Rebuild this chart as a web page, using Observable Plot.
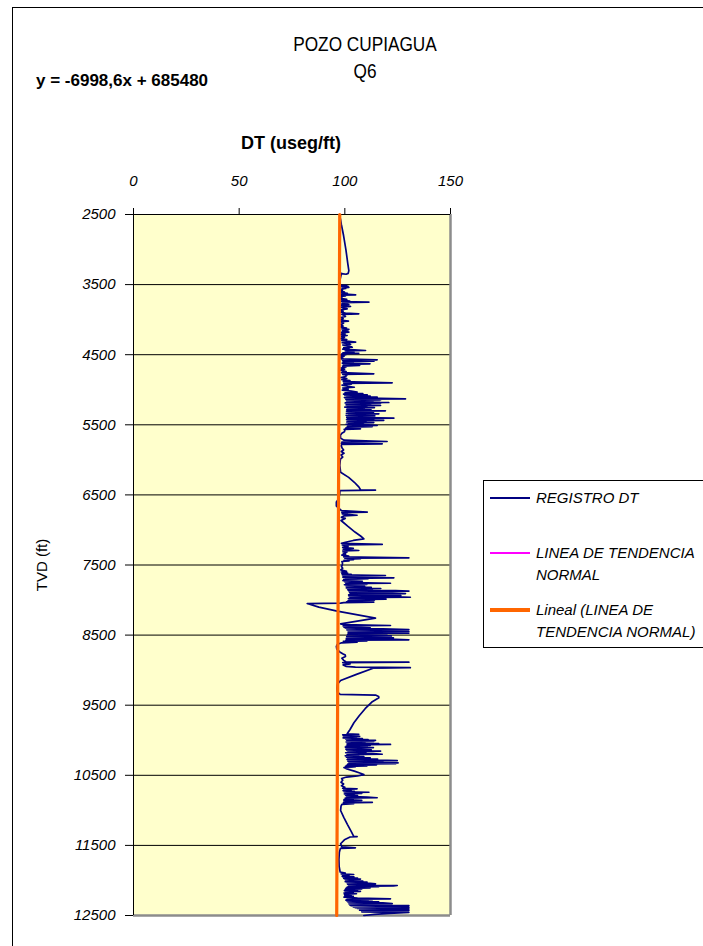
<!DOCTYPE html>
<html>
<head>
<meta charset="utf-8">
<script src="https://cdn.jsdelivr.net/npm/d3@7"></script>
<script src="https://cdn.jsdelivr.net/npm/@observablehq/plot@0.6"></script>
<style>
  html, body { margin: 0; padding: 0; background: #fff; }
  #page { position: relative; width: 703px; height: 946px; overflow: hidden; background: #fff; }
  #chart { position: absolute; left: 0; top: 0; }
  .abs { position: absolute; white-space: nowrap; color: #000; font-family: "Liberation Sans", Arial, sans-serif; }
  .narrow { transform: scaleX(0.82); transform-origin: 365px 50%; }
  #frame { position: absolute; left: 12px; top: 7px; width: 900px; height: 1100px; border: 1px solid #000; box-sizing: border-box; }
  #legend { position: absolute; left: 483px; top: 480px; width: 400px; height: 168px; border: 1px solid #000; box-sizing: border-box; background: #fff; }
  .lgline { position: absolute; left: 490px; width: 40px; }
  .lgtxt { position: absolute; left: 536px; font-family: "Liberation Sans", Arial, sans-serif; font-style: italic; font-size: 15px; line-height: 22px; white-space: nowrap; }
</style>
</head>
<body>
<div id="page">
  <div id="frame"></div>
  <div id="chart"></div>
  <div class="abs narrow" id="title1" style="left:0;width:730px;text-align:center;top:32px;font-size:21px;line-height:24px;">POZO CUPIAGUA</div>
  <div class="abs narrow" id="title2" style="left:0;width:730px;text-align:center;top:59px;font-size:21px;line-height:24px;">Q6</div>
  <div class="abs" id="eq" style="left:36px;top:71px;font-size:17px;line-height:20px;font-weight:bold;">y = -6998,6x + 685480</div>
  <div class="abs" id="xlabel" style="left:0;width:582px;text-align:center;top:133px;font-size:18px;line-height:20px;font-weight:bold;">DT (useg/ft)</div>
  <div class="abs" id="ylabel" style="left:42px;top:565px;font-size:15px;line-height:18px;transform:translate(-50%,-50%) rotate(-90deg);">TVD (ft)</div>
  <div id="legend"></div>
  <div class="lgline" style="top:497px;height:2px;background:#000080;"></div>
  <div class="lgtxt" style="top:487px;">REGISTRO DT</div>
  <div class="lgline" style="top:552px;height:2px;background:#FF00FF;"></div>
  <div class="lgtxt" style="top:542px;">LINEA DE TENDENCIA<br>NORMAL</div>
  <div class="lgline" style="top:608px;height:4px;background:#FF6600;"></div>
  <div class="lgtxt" style="top:599px;">Lineal (LINEA DE<br>TENDENCIA NORMAL)</div>
</div>
<script>
// Axis ticks
const xTicks = [0, 50, 100, 150];
const yTicks = [2500, 3500, 4500, 5500, 6500, 7500, 8500, 9500, 10500, 11500, 12500];
const gridTVD = [3500, 4500, 5500, 6500, 7500, 8500, 9500, 10500, 11500];

// LINEA DE TENDENCIA NORMAL and its linear fit (y = -6998,6x + 685480)
const tendenciaDT = [97.59, 96.16];
const tendenciaTVD = [2500, 12500];

// REGISTRO DT: [TVD (ft), DT (useg/ft)]
const registroDT = [
[2560,97.9],[2650,98.4],[2800,99.4],[3000,100.5],[3200,101.4],[3300,101.9],[3340,101.6],[3352,100.6],[3348,99.2],[3340,98.4],
[3420,97.8],[3500,97.6],
[3510,98.2],[3512,100.8],[3518,98.4],[3525,101.5],[3532,98.6],[3540,101.9],[3548,99.0],[3556,100.4],[3565,98.2],[3575,98.9],[3590,97.8],[3605,99.8],[3612,98.0],[3625,101.2],[3632,98.3],[3646,105.1],[3652,98.5],[3662,100.3],[3670,98.0],[3679,98.7],[3695,97.8],[3712,100.9],[3720,98.1],[3735,102.3],[3742,98.4],[3751,111.4],[3757,99.0],[3768,101.3],[3776,98.6],[3784,101.9],[3795,98.3],[3812,102.7],[3820,98.0],[3835,99.6],[3846,101.1],[3860,97.9],[3880,99.2],[3895,98.1],[3908,100.3],[3917,106.6],[3925,98.6],[3940,99.9],[3955,100.3],[3970,98.0],[3988,99.2],[4005,98.0],[4020,101.7],[4030,98.2],[4050,99.4],[4069,98.0],[4090,99.1],[4105,98.0],[4120,100.8],[4131,98.6],[4140,101.9],[4148,99.0],[4158,101.4],[4166,98.7],[4179,101.9],[4190,98.3],[4205,100.1],[4215,98.0],[4226,101.1],[4240,98.4],[4255,99.8],[4270,98.0],[4285,100.9],[4300,98.6],[4321,105.1],[4330,98.7],[4340,100.8],[4354,102.7],[4362,99.0],[4375,101.4],[4393,103.5],[4400,99.5],[4410,102.0],[4420,99.0],[4430,104.6],[4440,109.8],[4446,100.2],[4456,103.3],[4464,104.3],[4472,99.1],[4480,106.6],[4488,98.6],[4500,100.5],[4510,98.1],[4522,99.6],[4535,97.8],[4548,99.0],[4560,98.2],[4573,115.3],[4580,98.9],[4592,113.8],[4600,99.2],[4612,104.0],[4620,98.8],[4630,111.9],[4638,99.3],[4654,107.0],[4662,98.9],[4675,100.5],[4690,98.2],[4705,99.9],[4720,98.0],[4740,100.6],[4755,98.4],[4773,113.7],[4780,99.0],[4792,101.0],[4811,100.3],[4825,98.2],[4840,100.9],[4855,98.6],[4870,102.4],[4885,99.3],[4901,122.4],[4908,99.5],[4920,103.1],[4935,98.7],[4950,101.3],[4964,104.5],[4975,99.0],[4990,101.6],[5005,98.8],[5020,103.0],[5035,105.8],[5045,100.1],[5055,108.5],[5063,99.4],[5072,110.6],[5080,100.0],[5090,112.0],[5098,101.0],[5106,115.3],[5112,99.8],[5120,111.0],[5129,128.7],[5135,100.5],[5142,117.0],[5148,101.2],[5153,116.5],[5160,100.8],[5168,113.3],[5175,101.5],[5182,120.8],[5188,100.2],[5196,116.9],[5203,101.0],[5210,112.2],[5217,100.6],[5225,116.9],[5232,101.2],[5240,110.4],[5248,100.0],[5256,114.0],[5263,101.3],[5270,109.2],[5278,100.9],[5287,112.4],[5293,101.1],[5300,119.2],[5306,100.8],[5313,110.5],[5320,101.6],[5328,113.6],[5335,100.7],[5343,116.1],[5350,101.9],[5358,111.3],[5365,100.6],[5373,114.2],[5380,101.4],[5388,109.6],[5395,100.9],[5406,123.2],[5412,101.2],[5420,113.7],[5428,100.8],[5438,118.4],[5445,101.5],[5452,110.0],[5460,100.9],[5468,113.7],[5476,101.7],[5484,108.8],[5492,100.6],[5500,111.0],[5510,115.3],[5517,101.3],[5525,113.0],[5532,101.0],[5540,106.2],[5548,100.4],[5557,107.4],[5565,99.7],[5580,100.0],[5600,99.8],[5620,98.6],[5650,97.9],[5690,98.0],[5720,99.6],[5738,120.0],[5745,98.6],[5757,104.1],[5764,98.3],[5771,117.7],[5780,98.5],[5800,98.3],
[5830,98.7],[5860,99.4],[5880,98.3],[5905,99.6],[5930,98.2],[5960,99.0],[5990,97.9],[6080,97.6],[6176,98.0],[6250,101.8],[6320,104.5],[6390,106.7],[6427,107.4],[6433,114.5],[6440,97.7],[6480,97.6],[6560,97.0],[6600,96.0],[6660,96.0],[6700,97.5],[6725,98.4],[6746,110.6],[6752,98.6],[6765,101.2],[6772,98.8],[6790,105.8],[6800,99.5],[6820,98.4],[6835,100.2],[6865,98.2],[6950,101.5],[7030,104.8],[7090,107.6],[7127,109.0],[7150,104.0],[7175,100.3],[7190,98.4],[7207,117.7],[7214,98.8],[7235,101.5],[7248,99.0],[7262,104.0],[7275,99.2],[7293,106.6],[7300,99.0],[7315,101.0],[7330,99.2],[7345,100.4],[7358,98.6],[7372,101.8],[7385,99.5],[7397,130.3],[7404,100.0],[7410,107.4],[7418,101.2],[7425,104.1],[7432,99.6],[7440,102.0],[7450,98.6],[7470,98.9],[7500,98.8],[7520,98.4],[7545,99.0],[7570,98.1],[7590,100.8],[7600,98.3],[7615,101.3],[7622,98.6],[7632,103.0],[7640,98.8],[7650,119.2],[7656,99.3],[7665,107.6],[7672,99.0],[7683,123.2],[7690,100.4],[7698,111.0],[7705,99.5],[7715,104.3],[7722,99.1],[7732,108.3],[7740,100.0],[7750,104.9],[7760,121.6],[7766,100.5],[7775,110.5],[7782,99.8],[7790,105.8],[7798,100.6],[7806,109.4],[7813,101.0],[7820,112.5],[7827,100.7],[7835,117.0],[7842,101.3],[7850,113.0],[7858,101.5],[7865,124.0],[7873,130.3],[7878,102.0],[7885,118.5],[7892,102.3],[7900,122.5],[7907,128.7],[7913,102.5],[7920,119.0],[7927,101.8],[7935,126.5],[7942,102.0],[7950,121.0],[7960,131.0],[7966,102.4],[7974,116.0],[7981,101.7],[7988,119.5],[7995,102.1],[8003,114.0],[8010,101.5],[8018,110.5],[8024,100.8],[8030,113.7],[8036,99.5],[8045,98.0],[8050,82.2],[8101,87.7],[8158,96.4],[8258,114.5],[8339,98.0],[8350,99.5],[8363,121.6],[8370,99.2],[8378,107.4],[8386,99.6],[8395,112.0],[8402,100.2],[8410,118.0],[8420,130.3],[8425,101.0],[8432,126.0],[8438,101.5],[8445,130.3],[8451,102.0],[8458,124.0],[8464,101.6],[8471,130.3],[8477,102.5],[8484,120.0],[8490,101.3],[8498,115.0],[8505,101.8],[8512,122.0],[8518,100.9],[8525,119.5],[8532,101.5],[8540,123.0],[8548,100.7],[8555,118.0],[8567,130.3],[8573,100.5],[8582,110.5],[8590,99.3],[8600,105.8],[8610,98.5],[8630,96.5],[8660,96.0],[8700,96.2],[8740,97.6],[8765,99.0],[8785,100.2],[8805,100.3],[8830,98.6],[8860,99.5],[8880,100.5],[8886,130.3],[8892,99.0],[8910,102.5],[8925,99.2],[8945,100.5],[8958,105.0],[8965,131.0],[8970,113.7],[9060,105.5],[9148,98.0],[9200,96.5],[9260,96.2],[9310,96.4],[9345,97.8],[9355,114.5],[9375,116.0],[9395,116.1],[9450,113.0],[9550,109.6],[9650,106.8],[9750,104.3],[9850,102.4],[9890,101.5],[9908,101.1],
[9915,106.6],[9922,99.0],[9930,104.0],[9938,99.3],[9945,107.0],[9952,100.0],[9960,105.5],[9967,99.2],[9975,108.3],[9982,100.4],[9990,111.0],[9997,100.8],[10003,114.5],[10010,101.2],[10018,113.7],[10025,100.6],[10033,109.5],[10040,101.5],[10048,116.0],[10055,101.0],[10060,121.6],[10067,101.3],[10075,112.0],[10082,100.7],[10090,110.6],[10097,100.2],[10105,113.5],[10112,101.0],[10120,108.0],[10128,100.5],[10138,112.5],[10145,100.9],[10155,116.9],[10162,101.5],[10170,110.0],[10178,100.4],[10190,113.3],[10200,117.7],[10207,101.0],[10215,106.6],[10222,100.2],[10232,109.0],[10240,100.7],[10250,112.0],[10258,101.3],[10268,115.5],[10276,101.1],[10285,120.0],[10292,124.8],[10298,101.5],[10305,118.0],[10312,101.9],[10322,125.2],[10328,102.0],[10335,124.0],[10342,101.4],[10350,115.0],[10358,100.8],[10365,110.5],[10372,100.3],[10380,105.0],[10390,99.6],[10410,101.0],[10440,104.5],[10470,107.4],[10490,109.0],[10510,106.0],[10525,100.8],[10545,98.5],[10570,99.0],[10600,98.2],[10625,99.4],[10650,98.4],[10670,100.0],[10685,99.0],[10693,105.8],[10700,99.4],[10710,103.0],[10718,99.2],[10728,104.5],[10735,99.6],[10742,111.4],[10748,100.1],[10758,108.0],[10765,99.8],[10775,104.5],[10782,100.3],[10790,106.0],[10800,100.8],[10812,110.5],[10820,115.3],[10826,100.2],[10835,104.0],[10845,99.6],[10858,108.0],[10866,99.5],[10878,102.5],[10887,113.0],[10894,99.3],[10905,104.2],[10915,98.6],[10940,98.2],[11002,98.0],
[11100,99.5],[11200,101.2],[11300,103.0],[11373,104.2],[11375,105.8],[11380,102.5],[11420,99.8],[11477,98.0],[11520,98.6],[11534,105.0],[11542,97.9],[11600,97.4],[11700,97.2],[11800,97.3],[11880,97.8],
[11895,100.2],[11905,98.3],[11915,104.2],[11922,99.0],[11930,102.0],[11940,98.7],[11950,104.3],[11958,99.2],[11965,106.0],[11972,99.5],[11980,107.4],[11987,100.1],[11995,104.5],[12002,100.5],[12010,108.5],[12018,100.2],[12025,110.5],[12032,101.0],[12040,112.0],[12048,114.5],[12054,101.3],[12060,111.0],[12066,101.8],[12072,124.8],[12078,123.0],[12084,101.6],[12090,116.0],[12097,101.0],[12105,112.0],[12112,100.5],[12120,108.0],[12128,100.2],[12138,106.0],[12145,99.8],[12155,107.4],[12162,100.3],[12172,104.0],[12180,99.6],[12190,105.5],[12198,99.8],[12208,103.0],[12218,100.0],[12228,104.0],[12238,99.6],[12250,106.0],[12262,121.6],[12268,101.0],[12275,113.0],[12282,100.5],[12290,111.0],[12297,101.0],[12305,116.0],[12312,101.5],[12320,118.0],[12330,122.4],[12336,102.0],[12345,119.0],[12352,102.5],[12358,130.3],[12364,103.0],[12370,126.0],[12376,104.0],[12382,130.3],[12388,105.0],[12394,128.0],[12400,106.0],[12406,130.3],[12412,108.0],[12418,127.0],[12424,107.0],[12430,130.3],[12436,110.0],[12442,125.0],[12448,108.0],[12457,130.3],[12470,121.0],[12485,114.0],[12500,109.0]
];

const tendencia = tendenciaDT.map((dt, i) => ({dt, tvd: tendenciaTVD[i]}));
const registro = registroDT.map(([tvd, dt]) => ({tvd, dt}));

const chart = Plot.plot({
  width: 703,
  height: 946,
  marginLeft: 133,
  marginRight: 253,
  marginTop: 214,
  marginBottom: 31,
  style: {
    background: "transparent",
    fontFamily: '"Liberation Sans", Arial, sans-serif',
    fontSize: "15px",
    fontStyle: "italic",
    fontWeight: "normal",
    color: "#000",
    overflow: "visible"
  },
  x: {domain: [0, 150], axis: "top", ticks: xTicks, tickSize: 7, tickPadding: 22, tickFormat: d => String(d), label: null},
  y: {domain: [2500, 12500], reverse: true, ticks: yTicks, tickSize: 8, tickPadding: 10, tickFormat: d => String(d), label: null},
  marks: [
    Plot.frame({fill: "#FFFFCC", stroke: null}),
    Plot.ruleY(gridTVD, {stroke: "#000", strokeWidth: 1}),
    Plot.ruleX([150], {stroke: "#8c8c8c", strokeWidth: 2.5}),
    Plot.ruleY([12500], {stroke: "#8c8c8c", strokeWidth: 2.5}),
    Plot.ruleX([0], {stroke: "#000", strokeWidth: 1}),
    Plot.ruleY([2500], {stroke: "#000", strokeWidth: 1}),
    Plot.line(registro, {x: "dt", y: "tvd", stroke: "#000080", strokeWidth: 1.7}),
    Plot.line(tendencia, {x: "dt", y: "tvd", stroke: "#FF00FF", strokeWidth: 1}),
    Plot.line(tendencia, {x: "dt", y: "tvd", stroke: "#FF6600", strokeWidth: 3.2})
  ]
});
document.getElementById("chart").appendChild(chart);
</script>
</body>
</html>
